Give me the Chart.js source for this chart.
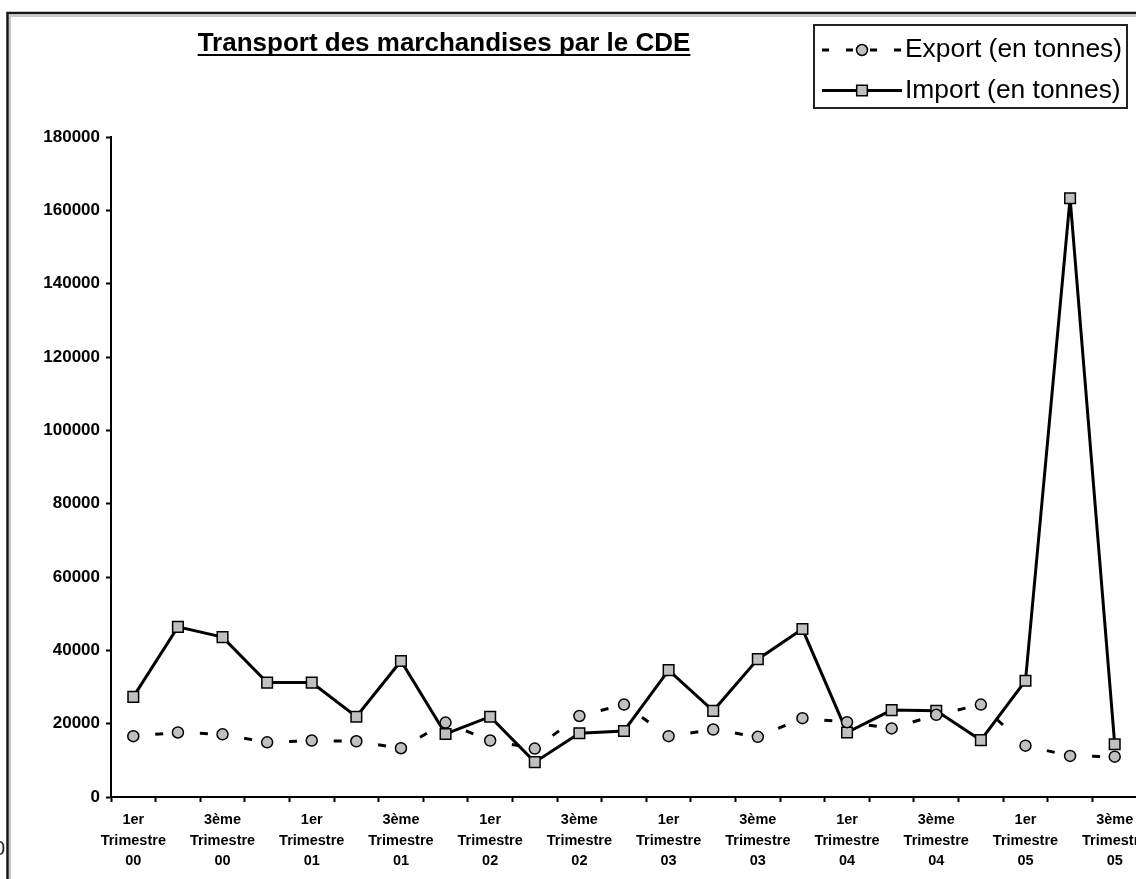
<!DOCTYPE html>
<html>
<head>
<meta charset="utf-8">
<script src="https://cdn.jsdelivr.net/npm/chart.js@4.4.1/dist/chart.umd.min.js"></script>
<style>
  html, body { margin:0; padding:0; background:#fff; overflow:hidden; }
  #chart { display:block; }
</style>
</head>
<body>
<canvas id="chart" width="1160" height="879"></canvas>
<script>
// trimestres 2000 -> 3e trimestre 2005
const categories = [
  "1er Trimestre 00", "2ème Trimestre 00", "3ème Trimestre 00", "4ème Trimestre 00",
  "1er Trimestre 01", "2ème Trimestre 01", "3ème Trimestre 01", "4ème Trimestre 01",
  "1er Trimestre 02", "2ème Trimestre 02", "3ème Trimestre 02", "4ème Trimestre 02",
  "1er Trimestre 03", "2ème Trimestre 03", "3ème Trimestre 03", "4ème Trimestre 03",
  "1er Trimestre 04", "2ème Trimestre 04", "3ème Trimestre 04", "4ème Trimestre 04",
  "1er Trimestre 05", "2ème Trimestre 05", "3ème Trimestre 05"
];

const exportTonnes = [16600, 17600, 17100, 14900, 15400, 15200, 13300, 20300, 15400, 13200, 22100, 25200,
                      16600, 18400, 16400, 21500, 20400, 18700, 22400, 25200, 14000, 11200, 11000];
const importTonnes = [27300, 46400, 43600, 31200, 31200, 21900, 37100, 17200, 21900, 9500, 17400, 18000,
                      34600, 23500, 37600, 45800, 17600, 23700, 23500, 15500, 31700, 163300, 14400];

const yTicks = [0, 20000, 40000, 60000, 80000, 100000, 120000, 140000, 160000, 180000];

const TITLE = "Transport des marchandises par le CDE";
const EXPORT_LABEL = "Export (en tonnes)";
const IMPORT_LABEL = "Import (en tonnes)";

const FONT = '"Liberation Sans", Arial, sans-serif';
const MARKER_FILL = "#c0c0c0";

function $(id){ return document.getElementById(id); }

// dashes restart on every segment (like Excel), so alternate offset to force separate strokes
const exportSegment = {
  borderDash: () => [8, 40],
  borderDashOffset: (c) => (c.p0DataIndex % 2 ? 26 : 26.001)
};

function drawMarker(ctx, style, x, y, r){
  ctx.save();
  ctx.setLineDash([]);
  ctx.fillStyle = MARKER_FILL;
  ctx.strokeStyle = "#000";
  ctx.lineWidth = 1.5;
  ctx.beginPath();
  if(style === "rect"){
    const s = r * Math.SQRT1_2;
    ctx.rect(x - s, y - s, 2*s, 2*s);
  } else {
    ctx.arc(x, y, r, 0, Math.PI*2);
  }
  ctx.fill();
  ctx.stroke();
  ctx.restore();
}

const decor = {
  id: "decor",
  beforeDraw(chart){
    const ctx = chart.ctx;
    ctx.save();
    ctx.fillStyle = "#fff";
    ctx.fillRect(0, 0, chart.width, chart.height);
    // cadre du graphique (coupé à droite et en bas)
    ctx.strokeStyle = "#c8c8c8";
    ctx.lineWidth = 2;
    ctx.strokeRect(10, 16, chart.width + 20, chart.height + 20);
    ctx.strokeStyle = "#151515";
    ctx.lineWidth = 2.5;
    ctx.strokeRect(7.5, 13, chart.width + 20, chart.height + 20);
    // bout de texte qui dépasse à gauche
    ctx.fillStyle = "#222";
    ctx.font = "20px " + FONT;
    ctx.textBaseline = "middle";
    ctx.textAlign = "right";
    ctx.fillText("0", 5, 849);
    ctx.restore();
  },
  afterDraw(chart){
    const ctx = chart.ctx;
    ctx.save();
    // titre souligné
    ctx.font = "bold 26px " + FONT;
    ctx.fillStyle = "#000";
    ctx.textAlign = "center";
    ctx.textBaseline = "alphabetic";
    const tx = 444, ty = 51;
    ctx.fillText(TITLE, tx, ty);
    const w = ctx.measureText(TITLE).width;
    ctx.fillRect(tx - w/2, ty + 3, w, 2);

    // légende
    ctx.strokeStyle = "#222";
    ctx.lineWidth = 2;
    ctx.strokeRect(814, 25, 313, 83);
    chart.data.datasets.forEach((ds, i) => {
      const y = 50 + i * 40.5;
      ctx.save();
      ctx.strokeStyle = "#000";
      ctx.lineWidth = 3;
      ctx.setLineDash(i === 0 ? [7, 17] : []);
      ctx.beginPath();
      ctx.moveTo(822, y);
      ctx.lineTo(902, y);
      ctx.stroke();
      ctx.restore();
      drawMarker(ctx, ds.pointStyle, 862, y, ds.pointRadius);
      ctx.font = "26.4px " + FONT;
      ctx.fillStyle = "#000";
      ctx.textAlign = "left";
      ctx.textBaseline = "middle";
      ctx.fillText(ds.label, 905, y);
    });
    ctx.restore();
  }
};

function buildChart(){
  const ctx = $("chart").getContext("2d");
  return new Chart(ctx, {
    type: "line",
    data: {
      labels: categories,
      datasets: [
        {
          label: EXPORT_LABEL,
          data: exportTonnes,
          borderColor: "#000",
          borderWidth: 3,
          borderDash: [8, 40],
          borderDashOffset: 26,
          segment: exportSegment,
          pointStyle: "circle",
          pointRadius: 5.5,
          pointBackgroundColor: MARKER_FILL,
          pointBorderColor: "#000",
          pointBorderWidth: 1.5,
          tension: 0,
          fill: false
        },
        {
          label: IMPORT_LABEL,
          data: importTonnes,
          borderColor: "#000",
          borderWidth: 3,
          pointStyle: "rect",
          pointRadius: 7.5,
          pointBackgroundColor: MARKER_FILL,
          pointBorderColor: "#000",
          pointBorderWidth: 1.5,
          tension: 0,
          fill: false
        }
      ]
    },
    options: {
      responsive: false,
      animation: false,
      layout: { padding: { top: 137, right: 23, left: 0, bottom: 0 } },
      plugins: {
        legend: { display: false },
        title: { display: false },
        tooltip: { enabled: false }
      },
      scales: {
        x: {
          type: "category",
          offset: true,
          afterFit: (s) => { s.height = 82; },
          grid: {
            offset: true,
            drawOnChartArea: false,
            drawTicks: true,
            tickLength: 5,
            tickColor: "#000",
            tickWidth: 2
          },
          border: { display: true, color: "#000", width: 2 },
          ticks: {
            autoSkip: false,
            maxRotation: 0,
            minRotation: 0,
            padding: 8,
            color: "#000",
            font: { family: FONT, size: 14.5, weight: "bold", lineHeight: 1.41 },
            callback: function(v, i){
              return i % 2 === 0 ? this.getLabelForValue(v).split(" ") : "";
            }
          }
        },
        y: {
          min: yTicks[0],
          max: yTicks[yTicks.length - 1],
          afterFit: (s) => { s.width = 111; },
          afterBuildTicks: (s) => { s.ticks = yTicks.map(v => ({ value: v })); },
          grid: {
            drawOnChartArea: false,
            drawTicks: true,
            tickLength: 5,
            tickColor: "#000",
            tickWidth: 2
          },
          border: { display: true, color: "#000", width: 2 },
          ticks: {
            padding: 6,
            color: "#000",
            font: { family: FONT, size: 17, weight: "bold" },
            callback: (v) => String(v)
          }
        }
      }
    },
    plugins: [decor]
  });
}

window.addEventListener("DOMContentLoaded", buildChart);
</script>
</body>
</html>
